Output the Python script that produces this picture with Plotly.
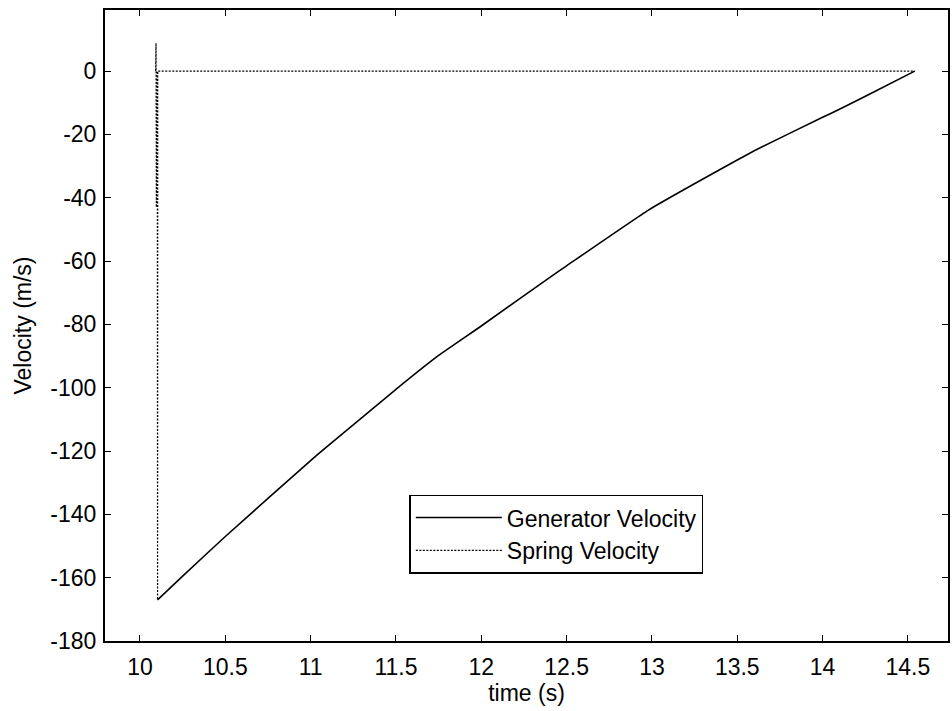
import plotly.graph_objects as go

# Generator velocity (solid)
gen_t = [10.103, 10.25, 10.5, 11.0, 11.11, 11.5, 11.75, 12.0, 12.4, 12.5, 12.98, 13.5, 13.62, 14.0, 14.09, 14.3, 14.54]
gen_v = [-167.0, -159.5, -147.0, -123.0, -118.0, -100.5, -89.8, -80.5, -65.2, -61.5, -43.9, -28.1, -24.6, -14.6, -12.3, -6.6, 0.0]

# Spring velocity (dotted)
spr_t = [10.092, 10.094, 10.096, 10.098, 10.100, 10.101, 10.102, 10.103, 10.104, 14.54]
spr_v = [0.0, 8.8, -43.0, 0.0, -43.0, 0.0, -43.0, -167.0, 0.0, 0.0]

x_ticks = [10, 10.5, 11, 11.5, 12, 12.5, 13, 13.5, 14, 14.5]
x_labels = ["10", "10.5", "11", "11.5", "12", "12.5", "13", "13.5", "14", "14.5"]
y_ticks = [-180, -160, -140, -120, -100, -80, -60, -40, -20, 0]
y_labels = ["-180", "-160", "-140", "-120", "-100", "-80", "-60", "-40", "-20", "0"]

FONT = "Liberation Sans, Arial, sans-serif"
FS = 23

fig = go.Figure()
fig.add_trace(go.Scatter(x=gen_t, y=gen_v, mode="lines", name="Generator Velocity",
                         line=dict(color="black", width=1.6, dash="solid", shape="spline", smoothing=0.4)))
fig.add_trace(go.Scatter(x=spr_t, y=spr_v, mode="lines", name="Spring Velocity",
                         line=dict(color="black", width=1.2, dash="2px,1.5px")))

axis_common = dict(showline=True, linecolor="black", linewidth=2, mirror="ticks",
                   ticks="inside", ticklen=6, tickwidth=1.2, tickcolor="black",
                   showgrid=False, zeroline=False,
                   tickfont=dict(family=FONT, size=FS, color="black"))

fig.update_xaxes(range=[9.795, 14.735], tickvals=x_ticks, ticktext=x_labels,
                 ticklabelstandoff=4,
                 title=dict(text="time (s)", font=dict(family=FONT, size=FS, color="black"), standoff=6),
                 **axis_common)
fig.update_yaxes(range=[-180, 19.3], tickvals=y_ticks, ticktext=y_labels,
                 ticklabelstandoff=2,
                 title=dict(text="Velocity (m/s)", font=dict(family=FONT, size=FS, color="black"), standoff=12),
                 **axis_common)

fig.update_layout(
    width=952, height=711,
    margin=dict(l=105, r=2, t=10, b=70),
    paper_bgcolor="white", plot_bgcolor="white",
    font=dict(family=FONT, size=FS, color="black"),
    showlegend=True,
    legend=dict(x=0.361, y=0.232, xanchor="left", yanchor="top",
                bgcolor="white", bordercolor="black", borderwidth=1.5,
                font=dict(family=FONT, size=FS, color="black"),
                itemwidth=86, tracegroupgap=0),
)

fig.write_html("out.html")
